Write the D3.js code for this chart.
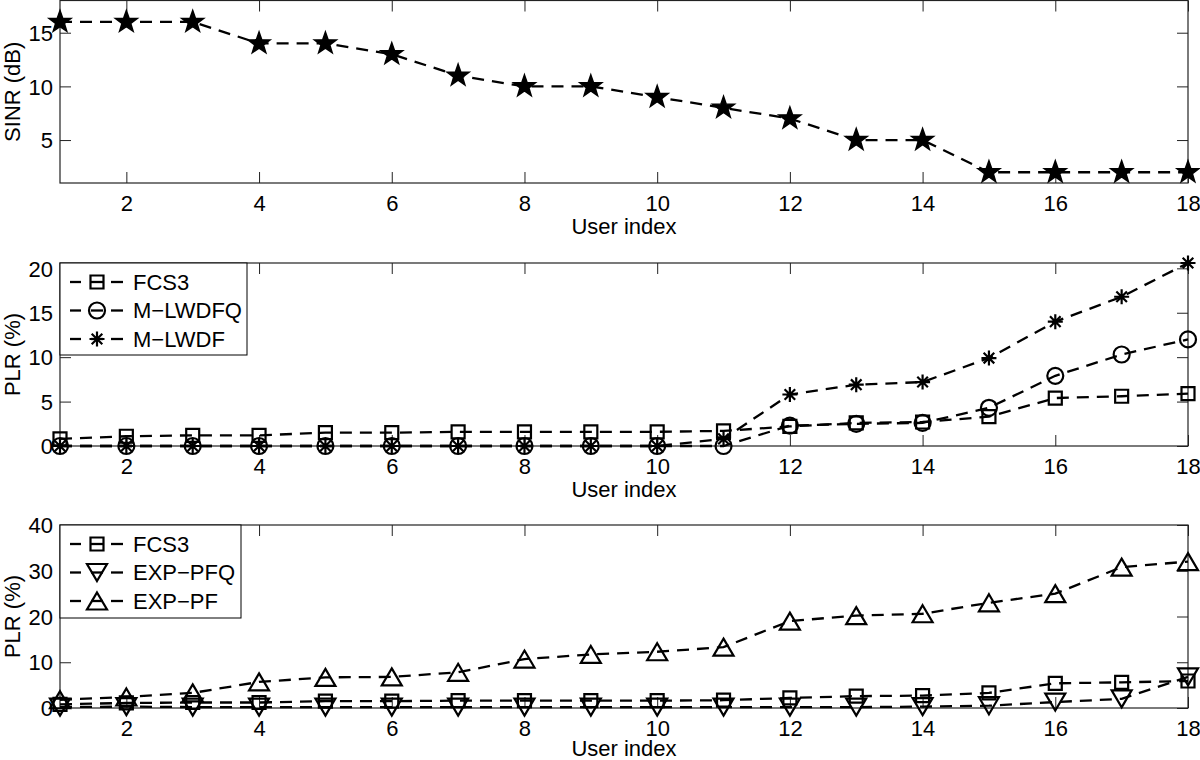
<!DOCTYPE html>
<html>
<head>
<meta charset="utf-8">
<script src="https://cdnjs.cloudflare.com/ajax/libs/d3/7.8.5/d3.min.js"></script>
<style>
  body { margin: 0; background: #fff; }
  svg text { font-family: "Liberation Sans", Arial, sans-serif; font-size: 22px; fill: #000; }
</style>
</head>
<body>
<svg id="chart" width="1200" height="760"></svg>
<script>
// user indices on the x axis
var users = [1,2,3,4,5,6,7,8,9,10,11,12,13,14,15,16,17,18];
var xTicks = [2,4,6,8,10,12,14,16,18];

// top panel: SINR per user (dB)
var sinr = [16,16,16,14,14,13,11,10,10,9,8,7,5,5,2,2,2,2];

// packet loss ratio (%)
var fcs3   = [0.8,1.1,1.2,1.2,1.5,1.5,1.6,1.6,1.6,1.6,1.7,2.2,2.6,2.7,3.3,5.4,5.6,5.9];
var mlwdfq = [0,0,0,0,0,0,0,0,0,0,0,2.3,2.5,2.6,4.3,7.9,10.3,12.0];
var mlwdf  = [0,0,0,0,0,0,0,0,0,0,0.8,5.8,6.9,7.2,9.9,14.0,16.8,20.6];
var exppfq = [0.2,0.3,0.2,0.2,0.2,0.2,0.2,0.2,0.2,0.2,0.2,0.2,0.2,0.3,0.5,1.3,2.0,6.8];
var exppf  = [1.8,2.4,3.3,5.7,6.7,6.8,7.8,10.7,11.7,12.3,13.3,19.0,20.2,20.6,23.0,25.0,30.8,32.0];

var sinrTicks = [5,10,15];
var plrTicks1 = [0,5,10,15,20];
var plrTicks2 = [0,10,20,30,40];

var svg = d3.select('#chart');
var x = d3.scaleLinear().domain([1, 18]).range([60, 1188]);
var axisColor = '#222';

// marker shapes, drawn around 0,0
function markerPath(type) {
  if (type == 'pentagram') {
    var p = d3.path();
    for (var i = 0; i < 10; i++) {
      var a = -Math.PI/2 + i*Math.PI/5, r = i%2 ? 4.6 : 11.5;
      i ? p.lineTo(r*Math.cos(a), r*Math.sin(a)) : p.moveTo(r*Math.cos(a), r*Math.sin(a));
    }
    p.closePath();
    return p.toString();
  }
  if (type == 'square') return 'M-6.5,-6.5h13v13h-13Z';
  if (type == 'circle') return 'M8,0A8,8 0 1,1 -8,0A8,8 0 1,1 8,0Z';
  if (type == 'asterisk') {
    var s = '', r = 7.5, d = r*Math.SQRT1_2;
    s += 'M0,' + (-r) + 'V' + r + 'M' + (-r) + ',0H' + r;
    s += 'M' + (-d) + ',' + (-d) + 'L' + d + ',' + d + 'M' + (-d) + ',' + d + 'L' + d + ',' + (-d);
    return s;
  }
  if (type == 'triup') return 'M0,-8.5L10,8.5L-10,8.5Z';
  if (type == 'tridown') return 'M0,8.5L10,-8.5L-10,-8.5Z';
}

var panels = [
  {top: 0.5, bottom: 183, yDomain: [1, 18], yTicks: sinrTicks, ylabel: 'SINR (dB)', xlabelDy: 43,
   series: [{values: sinr, marker: 'pentagram'}], legend: null},
  {top: 263, bottom: 446, yDomain: [0, 20.6], yTicks: plrTicks1, ylabel: 'PLR (%)', xlabelDy: 43,
   series: [{values: fcs3, marker: 'square', name: 'FCS3'},
            {values: mlwdfq, marker: 'circle', name: 'M\u2212LWDFQ'},
            {values: mlwdf, marker: 'asterisk', name: 'M\u2212LWDF'}],
   legend: {w: 187, h: 92}},
  {top: 525, bottom: 708, yDomain: [0, 40], yTicks: plrTicks2, ylabel: 'PLR (%)', xlabelDy: 40,
   series: [{values: fcs3, marker: 'square', name: 'FCS3'},
            {values: exppfq, marker: 'tridown', name: 'EXP\u2212PFQ'},
            {values: exppf, marker: 'triup', name: 'EXP\u2212PF'}],
   legend: {w: 181, h: 93}}
];

function styleMarker(sel, type) {
  sel.attr('d', markerPath(type))
    .attr('fill', type == 'pentagram' ? '#000' : 'none')
    .attr('stroke', '#000')
    .attr('stroke-width', type == 'pentagram' ? 1.5 : 2.2)
    .attr('stroke-linejoin', 'miter');
}

panels.forEach(function(pn) {
  var y = d3.scaleLinear().domain(pn.yDomain).range([pn.bottom, pn.top]);
  var g = svg.append('g');

  // axes, ticks pointing inwards like matlab
  var bottomAx = g.append('g').attr('transform', 'translate(0,' + pn.bottom + ')')
    .call(d3.axisBottom(x).tickValues(xTicks).tickSize(-11).tickSizeOuter(0));
  bottomAx.selectAll('text').attr('y', 20).attr('dy', '0.35em');
  g.append('g').attr('transform', 'translate(0,' + pn.top + ')')
    .call(d3.axisTop(x).tickValues(xTicks).tickSize(-11).tickSizeOuter(0).tickFormat(''));
  var leftAx = g.append('g').attr('transform', 'translate(60,0)')
    .call(d3.axisLeft(y).tickValues(pn.yTicks).tickSize(-11).tickSizeOuter(0).tickPadding(7));
  leftAx.selectAll('text').attr('dy', '0.35em');
  g.append('g').attr('transform', 'translate(1188,0)')
    .call(d3.axisRight(y).tickValues(pn.yTicks).tickSize(-11).tickSizeOuter(0).tickFormat(''));
  g.selectAll('.domain').remove();
  g.selectAll('.tick line').attr('stroke', axisColor);
  g.selectAll('.tick text').style('font-size', '22px').attr('fill', '#000');

  g.append('rect')
    .attr('x', 60).attr('y', pn.top)
    .attr('width', 1188 - 60).attr('height', pn.bottom - pn.top)
    .attr('fill', 'none').attr('stroke', axisColor).attr('stroke-width', 1.2);

  g.append('text')
    .attr('transform', 'translate(12,' + (pn.top + pn.bottom)/2 + ') rotate(-90)')
    .attr('text-anchor', 'middle').attr('dominant-baseline', 'central')
    .text(pn.ylabel);
  g.append('text')
    .attr('x', 624).attr('y', pn.bottom + pn.xlabelDy)
    .attr('text-anchor', 'middle').attr('dominant-baseline', 'central')
    .text('User index');

  var line = d3.line().x(function(d, i) { return x(users[i]); }).y(function(d) { return y(d); });

  pn.series.forEach(function(s) {
    g.append('path')
      .attr('d', line(s.values))
      .attr('fill', 'none').attr('stroke', '#000')
      .attr('stroke-width', 2.3).attr('stroke-dasharray', '12,8');
    g.selectAll(null).data(s.values).enter().append('path')
      .attr('transform', function(d, i) { return 'translate(' + x(users[i]) + ',' + y(d) + ')'; })
      .call(styleMarker, s.marker);
  });

  if (pn.legend) {
    var lg = g.append('g').attr('transform', 'translate(60,' + pn.top + ')');
    lg.append('rect').attr('width', pn.legend.w).attr('height', pn.legend.h)
      .attr('fill', '#fff').attr('stroke', '#000').attr('stroke-width', 1);
    pn.series.forEach(function(s, i) {
      var ly = 19 + i*28.5;
      [[10, 21], [31, 43], [51, 63]].forEach(function(seg) {
        lg.append('line').attr('x1', seg[0]).attr('x2', seg[1]).attr('y1', ly).attr('y2', ly)
          .attr('stroke', '#000').attr('stroke-width', 2.3);
      });
      lg.append('path').attr('transform', 'translate(37,' + ly + ')').call(styleMarker, s.marker);
      lg.append('text').attr('x', 73).attr('y', ly).attr('dominant-baseline', 'central').text(s.name);
    });
  }
});
</script>
</body>
</html>
